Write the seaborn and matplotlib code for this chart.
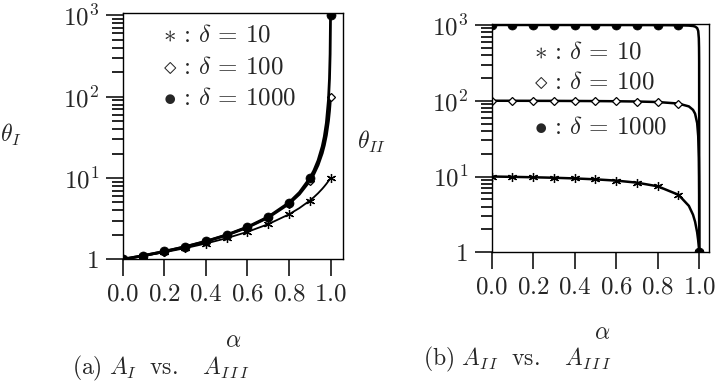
import matplotlib
matplotlib.use("Agg")
import matplotlib.pyplot as plt
from matplotlib.ticker import NullFormatter
import seaborn as sns

# alpha grid used for the curves (markers sit on the 0.0 ... 1.0 points)
alpha_a = [0.0, 0.1, 0.2, 0.3, 0.4, 0.5, 0.6, 0.7, 0.8, 0.85, 0.9,
           0.92, 0.94, 0.96, 0.97, 0.98, 0.99, 0.995, 0.998, 1.0]
theta1_d10 = [1.0, 1.099, 1.220, 1.370, 1.563, 1.818, 2.174, 2.703, 3.571, 4.26, 5.263,
              5.81, 6.49, 7.35, 7.87, 8.47, 9.17, 9.57, 9.82, 10.0]
theta1_d100 = [1.0, 1.110, 1.247, 1.422, 1.656, 1.980, 2.463, 3.257, 4.808, 6.31, 9.174,
               11.21, 14.41, 20.16, 25.19, 33.56, 50.25, 66.9, 83.5, 100.0]
theta1_d1000 = [1.0, 1.111, 1.250, 1.428, 1.666, 1.998, 2.497, 3.326, 4.975, 6.63, 9.911,
                12.36, 16.41, 24.41, 32.29, 47.66, 90.99, 166.8, 333.6, 1000.0]
marks_a = [0, 1, 2, 3, 4, 5, 6, 7, 8, 10, 19]

alpha_b = [0.0, 0.1, 0.2, 0.3, 0.4, 0.5, 0.6, 0.7, 0.8, 0.9,
           0.95, 0.97, 0.98, 0.99, 0.995, 0.998, 0.999, 0.9995, 1.0]
theta2_d10 = [10.0, 9.90, 9.78, 9.63, 9.44, 9.18, 8.83, 8.30, 7.43, 5.74,
              4.10, 3.13, 2.53, 1.83, 1.43, 1.18, 1.09, 1.04, 1.0]
theta2_d100 = [100.0, 99.9, 99.75, 99.6, 99.3, 99.0, 98.5, 97.7, 96.2, 91.8,
               84.2, 75.8, 67.4, 50.7, 34.1, 17.5, 10.0, 5.72, 1.0]
theta2_d1000 = [1000.0, 1000.0, 1000.0, 999.9, 999.7, 999.0, 998.5, 997.7, 996.0, 991.0,
                981.0, 969.0, 953.0, 910.0, 834.0, 667.0, 501.0, 334.0, 1.0]
marks_b = [0, 1, 2, 3, 4, 5, 6, 7, 8, 9, 18]

xticks = [0.0, 0.2, 0.4, 0.6, 0.8, 1.0]
xticklabels = ["$0.0$", "$0.2$", "$0.4$", "$0.6$", "$0.8$", "$1.0$"]
yticks = [1, 10, 100, 1000]
yticklabels = ["$1$", "$10^1$", "$10^2$", "$10^3$"]
yminor = [2, 3, 4, 5, 6, 7, 8, 9,
          20, 30, 40, 50, 60, 70, 80, 90,
          200, 300, 400, 500, 600, 700, 800, 900]
legend_texts = [r"$\ast\,:\,\delta\,=\,10$", r"$\diamond\,:\,\delta\,=\,100$",
                r"$\bullet\,:\,\delta\,=\,1000$"]

sns.set_style("ticks")
plt.rcParams["mathtext.fontset"] = "cm"
plt.rcParams["font.family"] = ["DejaVu Serif"]

W, H = 715, 384
fig = plt.figure(figsize=(W / 100, H / 100), dpi=100)


def px_axes(l, t, r, b):
    return fig.add_axes([l / W, 1 - b / H, (r - l) / W, (b - t) / H])


styles = [
    dict(marker=(6, 2, 0), markersize=6.5, markerfacecolor="black", markeredgecolor="black",
         markeredgewidth=0.9),
    dict(marker="D", markersize=4.5, markerfacecolor="white", markeredgecolor="black",
         markeredgewidth=0.9),
    dict(marker="o", markersize=6.5, markerfacecolor="black", markeredgecolor="black",
         markeredgewidth=0.5),
]


def draw(ax, x, series, marks, widths):
    for y, st, lw in zip(series, styles, widths):
        sns.lineplot(x=x, y=y, ax=ax, color="black", lw=lw, markevery=marks, **st)
    ax.set_yscale("log")
    ax.set_xticks(xticks)
    ax.set_xticklabels(xticklabels)
    ax.set_yticks(yticks)
    ax.set_yticklabels(yticklabels)
    ax.set_yticks(yminor, minor=True)
    ax.yaxis.set_minor_formatter(NullFormatter())
    ax.tick_params(which="major", direction="out", length=12, width=1.1, labelsize=18,
                   color="black", pad=5)
    ax.tick_params(axis="y", which="minor", direction="out", length=8, width=1.2,
                   color="black", left=True)
    ax.tick_params(axis="x", which="minor", length=0)
    for s in ax.spines.values():
        s.set_linewidth(1.0)
        s.set_color("black")
    ax.set_xlabel("")
    ax.set_ylabel("")


# panel (a)
ax1 = px_axes(122.7, 13.3, 343, 259.3)
draw(ax1, alpha_a, [theta1_d10, theta1_d100, theta1_d1000], marks_a, [1.3, 2.0, 2.0])
ax1.set_xlim(0, 1.06)
ax1.set_ylim(1, 1.06e3)

# panel (b)
ax2 = px_axes(491.7, 24, 709, 252.3)
draw(ax2, alpha_b, [theta2_d10, theta2_d100, theta2_d1000], marks_b, [1.8, 1.8, 1.8])
ax2.set_xlim(0, 1.047)
ax2.set_ylim(1, 1.03e3)

# in-plot keys
for txt, yy in zip(legend_texts, [35, 67, 98]):
    fig.text(163 / W, 1 - yy / H, txt, fontsize=18, va="center", ha="left")
for txt, yy in zip(legend_texts, [52, 82, 127]):
    fig.text(534 / W, 1 - yy / H, txt, fontsize=18, va="center", ha="left")

# axis labels and captions
fig.text(0 / W, 1 - 135 / H, r"$\theta_I$", fontsize=17, va="center", ha="left")
fig.text(357 / W, 1 - 142 / H, r"$\theta_{II}$", fontsize=17, va="center", ha="left")
fig.text(233 / W, 1 - 341 / H, r"$\alpha$", fontsize=17, va="center", ha="center")
fig.text(602 / W, 1 - 333 / H, r"$\alpha$", fontsize=17, va="center", ha="center")
fig.text(72 / W, 1 - 368 / H, r"$(\mathrm{a})\ A_I\ \ \mathrm{vs.}\ \ \ A_{I\,I\,I}$",
         fontsize=17, va="center", ha="left")
fig.text(423 / W, 1 - 359 / H, r"$(\mathrm{b})\ A_{I\,I}\ \ \mathrm{vs.}\ \ \ A_{I\,I\,I}$",
         fontsize=17, va="center", ha="left")

fig.savefig("out.png", dpi=100)
